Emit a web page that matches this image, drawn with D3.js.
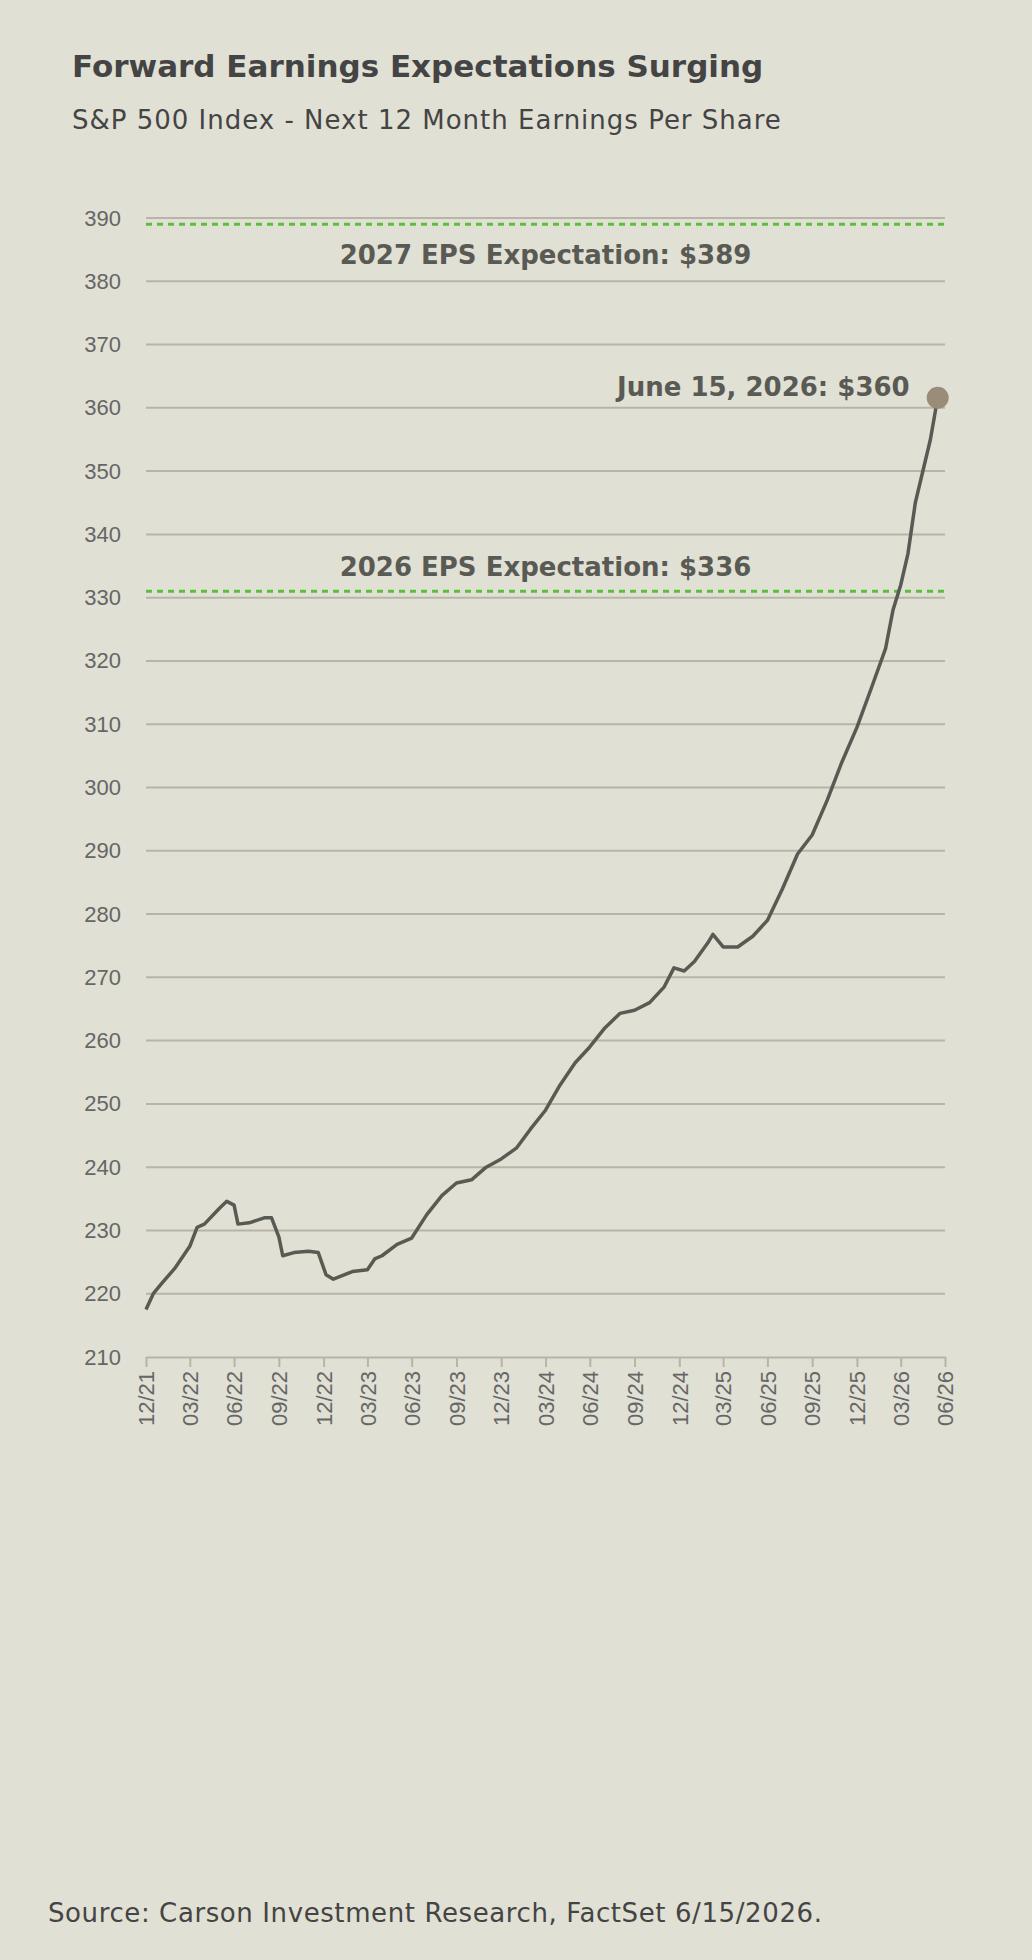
<!DOCTYPE html>
<html>
<head>
<meta charset="utf-8">
<script src="https://cdn.jsdelivr.net/npm/d3@7"></script>
<style>
  body { margin: 0; background: #e0e0d4; }
  svg { display: block; font-family: "DejaVu Sans", sans-serif; }
</style>
</head>
<body>
<svg id="chart"></svg>
<script>
// Data
const dates = [
  '2021-12-31','2022-01-15','2022-01-31','2022-02-28','2022-03-31','2022-04-15','2022-04-30','2022-05-31','2022-06-15','2022-06-30','2022-07-08','2022-07-31','2022-08-31','2022-09-15','2022-09-30','2022-10-08','2022-10-31','2022-11-30','2022-12-20','2023-01-05','2023-01-20','2023-02-28','2023-03-31','2023-04-15','2023-04-30','2023-05-31','2023-06-30','2023-07-31','2023-08-31','2023-09-30','2023-10-31','2023-11-30','2023-12-31','2024-01-31','2024-02-29','2024-03-31','2024-04-30','2024-05-31','2024-06-30','2024-07-31','2024-08-31','2024-09-30','2024-10-31','2024-11-30','2024-12-20','2025-01-10','2025-01-31','2025-02-28','2025-03-10','2025-03-31','2025-04-30','2025-05-31','2025-06-30','2025-07-31','2025-08-31','2025-09-30','2025-10-31','2025-11-30','2025-12-31','2026-01-31','2026-02-28','2026-03-15','2026-03-31','2026-04-15','2026-04-30','2026-05-31','2026-06-15'
];
const eps = [
  217.5,220,221.5,224,227.5,230.5,231,233.5,234.6,234,231,231.2,232,232,229,226,226.5,226.7,226.5,223,222.3,223.5,223.8,225.5,226,227.8,228.8,232.5,235.5,237.5,238,240,241.3,243,246,249,253,256.5,259,262,264.3,264.8,266,268.5,271.5,271,272.5,275.5,276.8,274.8,274.8,276.5,279,284,289.5,292.5,298,304,309.5,316,322,328,332,337,345,355,361.6
];
const yTicks = d3.range(210, 391, 10);
const xTickDates = ['2021-12-31','2022-03-31','2022-06-30','2022-09-30','2022-12-31','2023-03-31','2023-06-30','2023-09-30','2023-12-31','2024-03-31','2024-06-30','2024-09-30','2024-12-31','2025-03-31','2025-06-30','2025-09-30','2025-12-31','2026-03-31','2026-06-30'];
const refValues = [389, 331];
const refLabels = ['2027 EPS Expectation: $389', '2026 EPS Expectation: $336'];
const lastLabel = 'June 15, 2026: $360';

const width = 1032, height = 1960;
const margin = { top: 218, right: 87, bottom: 603, left: 146 };
const innerW = width - margin.left - margin.right;
const innerH = height - margin.top - margin.bottom;
const parse = d3.timeParse('%Y-%m-%d');
const data = dates.map((d, i) => ({ date: parse(d), v: eps[i] }));

const svg = d3.select('#chart').attr('width', width).attr('height', height);
svg.append('rect').attr('width', width).attr('height', height).attr('fill', '#e0e0d4');

svg.append('text').attr('x', 72).attr('y', 77)
  .attr('font-size', 31).attr('font-weight', 'bold').attr('fill', '#444')
  .text('Forward Earnings Expectations Surging');
svg.append('text').attr('x', 72).attr('y', 129)
  .attr('font-size', 26).attr('letter-spacing', 1).attr('fill', '#444')
  .text('S&P 500 Index - Next 12 Month Earnings Per Share');
svg.append('text').attr('x', 48).attr('y', 1922)
  .attr('font-size', 26).attr('letter-spacing', 0.6).attr('fill', '#444')
  .text('Source: Carson Investment Research, FactSet 6/15/2026.');

const g = svg.append('g').attr('transform', `translate(${margin.left},${margin.top})`);

const x = d3.scaleTime().domain([parse('2021-12-31'), parse('2026-06-30')]).range([0, innerW]);
const y = d3.scaleLinear().domain([210, 390]).range([innerH, 0]);

// grid
g.append('g').selectAll('line').data(yTicks.slice(1)).enter().append('line')
  .attr('x1', 0).attr('x2', innerW)
  .attr('y1', d => y(d)).attr('y2', d => y(d))
  .attr('stroke', '#b8b4a8').attr('stroke-width', 2);

// y axis
const yAxis = g.append('g').call(d3.axisLeft(y).tickValues(yTicks).tickSize(0).tickPadding(25));
yAxis.select('.domain').remove();
yAxis.selectAll('text').attr('font-size', 22).attr('fill', '#666').attr('font-family', 'inherit');

// x axis
const xAxis = g.append('g').attr('transform', `translate(0,${innerH})`)
  .call(d3.axisBottom(x).tickValues(xTickDates.map(parse)).tickFormat(d3.timeFormat('%m/%y')).tickSize(10).tickSizeOuter(0));
xAxis.select('.domain').attr('stroke', '#b8b4a8').attr('stroke-width', 2);
xAxis.selectAll('.tick line').attr('stroke', '#b8b4a8').attr('stroke-width', 2);
xAxis.selectAll('text')
  .attr('font-size', 22).attr('fill', '#666').attr('font-family', 'inherit')
  .attr('text-anchor', 'end').attr('transform', 'rotate(-90)')
  .attr('x', -14).attr('y', 0).attr('dy', '0.35em');

// reference lines
g.append('g').selectAll('line').data(refValues).enter().append('line')
  .attr('x1', 0).attr('x2', innerW)
  .attr('y1', d => y(d)).attr('y2', d => y(d))
  .attr('stroke', '#5cbf3c').attr('stroke-width', 3).attr('stroke-dasharray', '6,5');
g.append('text').attr('x', innerW / 2).attr('y', y(389) + 40)
  .attr('text-anchor', 'middle').attr('font-size', 26).attr('font-weight', 'bold').attr('fill', '#5a5a55')
  .text(refLabels[0]);
g.append('text').attr('x', innerW / 2).attr('y', y(331) - 15)
  .attr('text-anchor', 'middle').attr('font-size', 26).attr('font-weight', 'bold').attr('fill', '#5a5a55')
  .text(refLabels[1]);

// series
g.append('path').datum(data)
  .attr('fill', 'none').attr('stroke', '#5a5a55').attr('stroke-width', 3.5)
  .attr('stroke-linejoin', 'round')
  .attr('d', d3.line().x(d => x(d.date)).y(d => y(d.v)));

const last = data[data.length - 1];
g.append('circle').attr('cx', x(last.date)).attr('cy', y(last.v)).attr('r', 11).attr('fill', '#9a8c78');
g.append('text').attr('x', x(last.date) - 28).attr('y', y(last.v) - 2)
  .attr('text-anchor', 'end').attr('font-size', 26).attr('font-weight', 'bold').attr('fill', '#5a5a55')
  .text(lastLabel);
</script>
</body>
</html>
